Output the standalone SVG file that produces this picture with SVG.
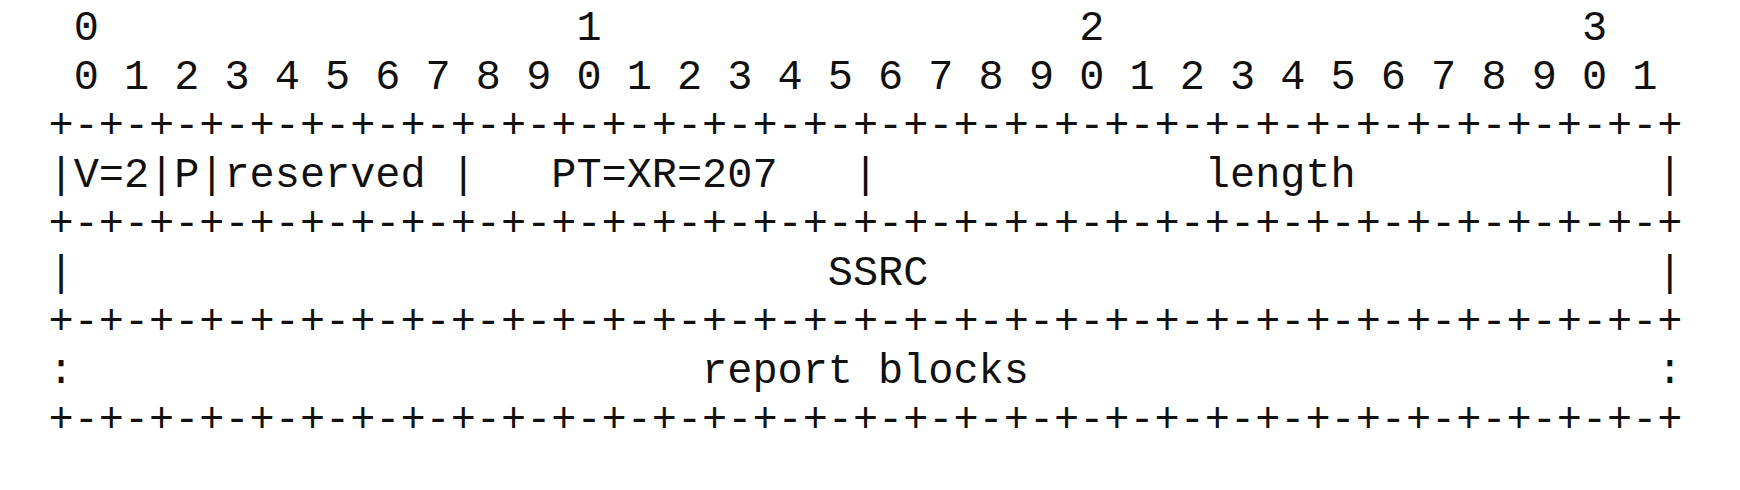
<svg xmlns="http://www.w3.org/2000/svg" width="1740" height="490" viewBox="0 0 1740 490" xml:space="preserve">
<style>
.t{font-family:"Liberation Mono","Courier New",monospace;font-size:41.9px;fill:#111;white-space:pre}
</style>
<rect width="1740" height="490" fill="#fff"/>
<g id="bit-ruler">
<text class="t" x="48.5" y="40"> 0                   1                   2                   3</text>
<text class="t" x="48.5" y="89"> 0 1 2 3 4 5 6 7 8 9 0 1 2 3 4 5 6 7 8 9 0 1 2 3 4 5 6 7 8 9 0 1</text>
</g>
<g id="border-1"><text class="t" x="48.5" y="138">+-+-+-+-+-+-+-+-+-+-+-+-+-+-+-+-+-+-+-+-+-+-+-+-+-+-+-+-+-+-+-+-+</text></g>
<g id="row-header"><text class="t" x="48.5" y="187">|V=2|P|reserved |   PT=XR=207   |             length            |</text></g>
<g id="border-2"><text class="t" x="48.5" y="236">+-+-+-+-+-+-+-+-+-+-+-+-+-+-+-+-+-+-+-+-+-+-+-+-+-+-+-+-+-+-+-+-+</text></g>
<g id="row-ssrc"><text class="t" x="48.5" y="285">|                              SSRC                             |</text></g>
<g id="border-3"><text class="t" x="48.5" y="334">+-+-+-+-+-+-+-+-+-+-+-+-+-+-+-+-+-+-+-+-+-+-+-+-+-+-+-+-+-+-+-+-+</text></g>
<g id="row-report-blocks"><text class="t" x="48.5" y="383">:                         report blocks                         :</text></g>
<g id="border-4"><text class="t" x="48.5" y="432">+-+-+-+-+-+-+-+-+-+-+-+-+-+-+-+-+-+-+-+-+-+-+-+-+-+-+-+-+-+-+-+-+</text></g>
<g id="connectors"></g>
</svg>
